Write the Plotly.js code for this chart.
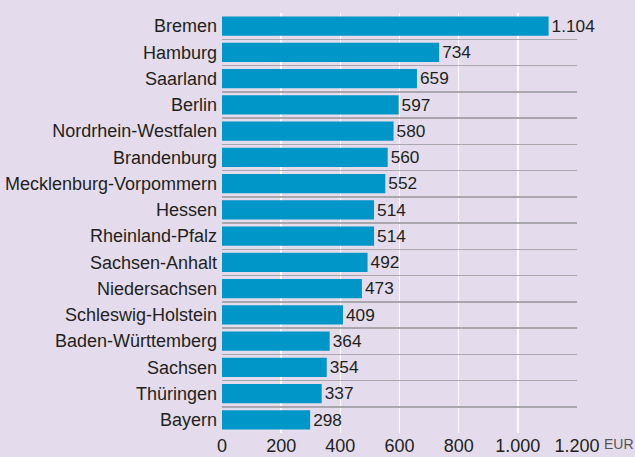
<!DOCTYPE html>
<html><head><meta charset="utf-8">
<script src="https://cdn.plot.ly/plotly-3.0.1.min.js"></script>
<style>html,body{margin:0;padding:0;background:#e4dcec;}#chart{width:635px;height:457px;}</style>
</head><body><div id="chart"></div>
<script>
const categories = ["Bremen","Hamburg","Saarland","Berlin","Nordrhein-Westfalen","Brandenburg","Mecklenburg-Vorpommern","Hessen","Rheinland-Pfalz","Sachsen-Anhalt","Niedersachsen","Schleswig-Holstein","Baden-Württemberg","Sachsen","Thüringen","Bayern"];
const values = [1104,734,659,597,580,560,552,514,514,492,473,409,364,354,337,298];
const tickVals = [0,200,400,600,800,1000,1200];
const unitLabel = "EUR";

const font = "Liberation Sans, Arial, sans-serif";
const trace = {
  type: "bar", orientation: "h",
  y: categories, x: values,
  marker: {color: "#0096c8", line: {width: 0}},
  texttemplate: "%{x:,}", textposition: "outside",
  textfont: {family: font, size: 18, color: "#231f20"},
  cliponaxis: false, hoverinfo: "skip"
};
const layout = {
  width: 635, height: 457,
  margin: {l: 222, r: 58, t: 13, b: 24, pad: 0},
  paper_bgcolor: "#e4dcec", plot_bgcolor: "#e4dcec",
  separators: ",.",
  bargap: 0.27,
  showlegend: false,
  font: {family: font, size: 18, color: "#231f20"},
  xaxis: {range: [0, 1200], tickvals: tickVals, tickformat: ",", showgrid: true, gridcolor: "#ffffff", gridwidth: 1.5,
          zeroline: false, showline: false, ticks: "", ticklen: 0, ticklabelstandoff: 0,
          tickfont: {family: font, size: 18, color: "#231f20"}},
  yaxis: {autorange: "reversed", type: "category", tickson: "boundaries", showgrid: true, gridcolor: "#a9a6ad", gridwidth: 1.5,
          ticks: "", ticklen: 0, ticklabelstandoff: 4, showline: false, zeroline: false,
          tickfont: {family: font, size: 18, color: "#231f20"}},
  annotations: [{text: unitLabel, xref: "paper", yref: "paper", x: 1, y: 0, xanchor: "left", yanchor: "top",
                 xshift: 25, yshift: -1, showarrow: false, font: {family: font, size: 14, color: "#555555"}}]
};
Plotly.newPlot("chart", [trace], layout, {displayModeBar: false, staticPlot: true});
</script></body></html>
